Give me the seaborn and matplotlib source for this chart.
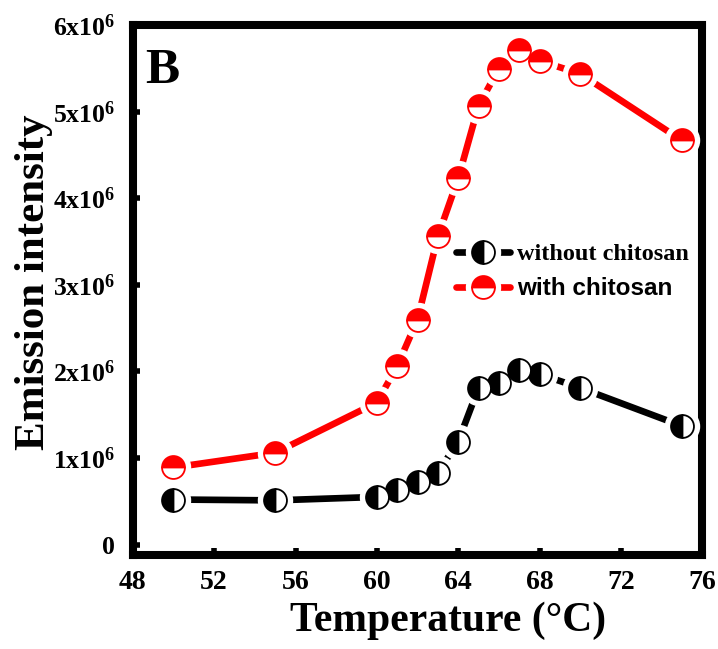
import numpy as np
import pandas as pd
import matplotlib.pyplot as plt
import seaborn as sns
from matplotlib.lines import Line2D
from matplotlib.legend_handler import HandlerTuple
from matplotlib.ticker import FuncFormatter

# Data
temperature = [50, 55, 60, 61, 62, 63, 64, 65, 66, 67, 68, 70, 75]
with_chitosan = [0.89e6, 1.06e6, 1.64e6, 2.06e6, 2.60e6, 3.56e6, 4.23e6,
                 5.07e6, 5.50e6, 5.72e6, 5.59e6, 5.44e6, 4.67e6]
without_chitosan = [0.52e6, 0.51e6, 0.55e6, 0.63e6, 0.72e6, 0.83e6, 1.19e6,
                    1.81e6, 1.87e6, 2.02e6, 1.97e6, 1.81e6, 1.37e6]
x_ticks = [48, 52, 56, 60, 64, 68, 72, 76]
y_ticks = [0, 1e6, 2e6, 3e6, 4e6, 5e6, 6e6]

df = pd.DataFrame({'T': temperature, 'with': with_chitosan, 'without': without_chitosan})

sns.set_style('ticks')
plt.rcParams['font.family'] = ['Liberation Serif', 'DejaVu Serif']
plt.rcParams['font.weight'] = 'bold'
plt.rcParams['mathtext.fontset'] = 'custom'
plt.rcParams['mathtext.rm'] = 'Liberation Serif:bold'
plt.rcParams['mathtext.bf'] = 'Liberation Serif:bold'
for k in ['text.color', 'axes.labelcolor', 'xtick.color', 'ytick.color', 'axes.edgecolor']:
    plt.rcParams[k] = 'black'

fig = plt.figure(figsize=(7.18, 6.49), dpi=100)
ax = fig.add_axes([0.185, 0.145, 0.793, 0.816])

ms = 16.5
styles = {
    'without': dict(color='black', fill='left'),
    'with': dict(color='red', fill='top'),
}
for key, st in styles.items():
    sns.lineplot(data=df, x='T', y=key, ax=ax, color=st['color'], lw=4.8, zorder=2)
    # white halo around each marker gives the gap in the line
    ax.plot(df['T'], df[key], ls='none', marker='o', ms=ms + 8,
            mfc='white', mec='white', zorder=3)
    ax.plot(df['T'], df[key], ls='none', marker='o', ms=ms, fillstyle=st['fill'],
            mfc=st['color'], mfcalt='white', mec=st['color'], mew=1.3, zorder=4)

ax.set_xlim(48, 76)
ax.set_ylim(-0.12e6, 6e6)
ax.set_xticks(x_ticks)
ax.set_yticks(y_ticks)


def fmt(v, pos):
    n = int(round(v / 1e6))
    return '0' if n == 0 else r'$\mathbf{%dx10^{6}}$' % n


ax.yaxis.set_major_formatter(FuncFormatter(fmt))
ax.tick_params(axis='x', labelsize=20, direction='in', length=5, width=4, pad=11)
ax.tick_params(axis='y', labelsize=18.5, direction='in', length=5, width=4, pad=13)
for lab in ax.get_xticklabels() + ax.get_yticklabels():
    lab.set_fontweight('bold')
for sp in ax.spines.values():
    sp.set_linewidth(5.8)
    sp.set_visible(True)

ax.set_xlabel('Temperature (°C)', fontsize=30, fontweight='bold')
ax.xaxis.set_label_coords(0.553, -0.088)
ax.set_ylabel('Emission intensity', fontsize=31, fontweight='bold')
ax.yaxis.set_label_coords(-0.14, 0.515)
ax.text(0.022, 0.958, 'B', transform=ax.transAxes, fontsize=37,
        fontweight='bold', va='top', ha='left')

handles = []
for key in ['without', 'with']:
    st = styles[key]
    ln = Line2D([0], [0], color=st['color'], lw=4.8)
    halo = Line2D([0], [0], ls='none', marker='o', ms=ms + 8, mfc='white', mec='white')
    mk = Line2D([0], [0], ls='none', marker='o', ms=ms, fillstyle=st['fill'],
                mfc=st['color'], mfcalt='white', mec=st['color'], mew=1.3)
    handles.append((ln, halo, mk))
leg = ax.legend(handles, ['without chitosan', 'with chitosan'],
                handler_map={tuple: HandlerTuple(ndivide=1)},
                loc='upper left', bbox_to_anchor=(0.53, 0.63), frameon=False,
                handlelength=2.2, handletextpad=0.3, labelspacing=0.5,
                prop={'size': 17.5, 'weight': 'bold'})
leg.get_texts()[1].set_fontfamily('Liberation Sans')
leg.get_texts()[1].set_fontsize(17.5)

fig.savefig('out.png', dpi=100)
